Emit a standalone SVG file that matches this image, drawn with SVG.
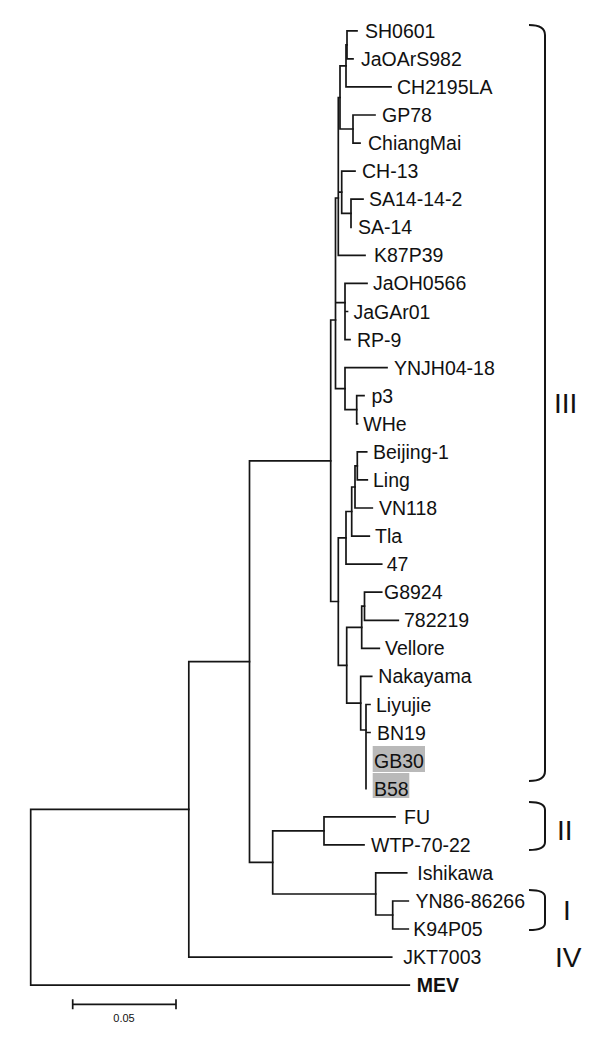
<svg xmlns="http://www.w3.org/2000/svg" width="600" height="1054" viewBox="0 0 600 1054">
<style>
.br{stroke:#151515;stroke-width:1.7;fill:none;stroke-linecap:square}
.bk{stroke:#151515;stroke-width:2;fill:none}
.lbl{font-family:"Liberation Sans",Arial,sans-serif;font-size:19.5px;fill:#111}
.grp{font-family:"Liberation Sans",Arial,sans-serif;font-size:28px;fill:#111}
.hl{fill:#b9b9b9}
</style>
<rect width="600" height="1054" fill="#fff"/>
<g id="connectors">
<path class="br" d="M347,30.8V58.9M347,30.8H357M347,58.9H353"/>
<path class="br" d="M346,44.85V86.9M346,44.85H347M346,86.9H391"/>
<path class="br" d="M353,115V143.1M353,115H375M353,143.1H360"/>
<path class="br" d="M340,65.9V129M340,65.9H346M340,129H353"/>
<path class="br" d="M351,199.2V227.3M351,199.2H363"/>
<path class="br" d="M341.7,171.2V213.3M341.7,171.2H355M341.7,213.3H351"/>
<path class="br" d="M338.3,97.5V255.4M338.3,97.5H340M338.3,192.2H341.7M338.3,255.4H365"/>
<path class="br" d="M345,283.4V339.6M345,283.4H367M345,311.5H347.5M345,339.6H350"/>
<path class="br" d="M356.7,395.7V423.8M356.7,395.7H364M356.7,423.8H357.5"/>
<path class="br" d="M345,367.6V409.7M345,367.6H387M345,409.7H356.7"/>
<path class="br" d="M335.5,198V388.7M335.5,198H338.3M335.5,302.7H345M335.5,388.7H345"/>
<path class="br" d="M357.3,451.9V479.9M357.3,451.9H366.7M357.3,479.9H367.3"/>
<path class="br" d="M355,465.9V508M355,465.9H357.3M355,508H372.3"/>
<path class="br" d="M351.7,487V536.1M351.7,487H355M351.7,536.1H369.3"/>
<path class="br" d="M346,511.5V564.1M346,511.5H351.7M346,564.1H381.7"/>
<path class="br" d="M364.5,592.2V620.3M364.5,592.2H381.7M364.5,620.3H398.3"/>
<path class="br" d="M361.7,606.2V648.3M361.7,606.2H364.5M361.7,648.3H379.3"/>
<path class="br" d="M366,704.5V788.7M366,704.5H370M366,732.5H370"/>
<path class="br" d="M360.7,676.4V730M360.7,676.4H371.7M360.7,730H366"/>
<path class="br" d="M346.7,627.3V703.2M346.7,627.3H361.7M346.7,703.2H360.7"/>
<path class="br" d="M338.3,537.8V665.3M338.3,537.8H346M338.3,665.3H346.7"/>
<path class="br" d="M330.7,320V601.5M330.7,320H335.5M330.7,601.5H338.3"/>
<path class="br" d="M324,816.8V844.8M324,816.8H395M324,844.8H364"/>
<path class="br" d="M392.7,901V929M392.7,901H408.3M392.7,929H408.3"/>
<path class="br" d="M375.7,872.9V915M375.7,872.9H406.7M375.7,915H392.7"/>
<path class="br" d="M272.7,830.8V894M272.7,830.8H324M272.7,894H375.7"/>
<path class="br" d="M249.5,460.8V862.4M249.5,460.8H330.7M249.5,862.4H272.7"/>
<path class="br" d="M188.8,661.6V957.1M188.8,661.6H249.5M188.8,957.1H391.7"/>
<path class="br" d="M30.7,809.4V985.2M30.7,809.4H188.8M30.7,985.2H409.3"/>
</g>
<g id="leaves">
<g id="n-SH0601"><text class="lbl" x="365" y="37.8">SH0601</text></g>
<g id="n-JaOArS982"><text class="lbl" x="361" y="65.9">JaOArS982</text></g>
<g id="n-CH2195LA"><text class="lbl" x="397" y="93.9">CH2195LA</text></g>
<g id="n-GP78"><text class="lbl" x="382" y="122">GP78</text></g>
<g id="n-ChiangMai"><text class="lbl" x="368" y="150.1">ChiangMai</text></g>
<g id="n-CH-13"><text class="lbl" x="362" y="178.2">CH-13</text></g>
<g id="n-SA14-14-2"><text class="lbl" x="369" y="206.2">SA14-14-2</text></g>
<g id="n-SA-14"><text class="lbl" x="358" y="234.3">SA-14</text></g>
<g id="n-K87P39"><text class="lbl" x="374" y="262.4">K87P39</text></g>
<g id="n-JaOH0566"><text class="lbl" x="373" y="290.4">JaOH0566</text></g>
<g id="n-JaGAr01"><text class="lbl" x="353.5" y="318.5">JaGAr01</text></g>
<g id="n-RP-9"><text class="lbl" x="357" y="346.6">RP-9</text></g>
<g id="n-YNJH04-18"><text class="lbl" x="394" y="374.6">YNJH04-18</text></g>
<g id="n-p3"><text class="lbl" x="371.5" y="402.7">p3</text></g>
<g id="n-WHe"><text class="lbl" x="363.3" y="430.8">WHe</text></g>
<g id="n-Beijing-1"><text class="lbl" x="373" y="458.9">Beijing-1</text></g>
<g id="n-Ling"><text class="lbl" x="373" y="486.9">Ling</text></g>
<g id="n-VN118"><text class="lbl" x="379" y="515">VN118</text></g>
<g id="n-Tla"><text class="lbl" x="375" y="543.1">Tla</text></g>
<g id="n-47"><text class="lbl" x="386.7" y="571.1">47</text></g>
<g id="n-G8924"><text class="lbl" x="384" y="599.2">G8924</text></g>
<g id="n-782219"><text class="lbl" x="404" y="627.3">782219</text></g>
<g id="n-Vellore"><text class="lbl" x="385" y="655.3">Vellore</text></g>
<g id="n-Nakayama"><text class="lbl" x="378.3" y="683.4">Nakayama</text></g>
<g id="n-Liyujie"><text class="lbl" x="376" y="711.5">Liyujie</text></g>
<g id="n-BN19"><text class="lbl" x="377" y="739.5">BN19</text></g>
<g id="n-GB30"><rect class="hl" x="372.7" y="746" width="52.3" height="26"/><text class="lbl" x="374" y="767.6">GB30</text></g>
<g id="n-B58"><rect class="hl" x="372.7" y="773" width="36.6" height="25"/><text class="lbl" x="374" y="795.7">B58</text></g>
<g id="n-FU"><text class="lbl" x="404" y="823.8">FU</text></g>
<g id="n-WTP-70-22"><text class="lbl" x="371" y="851.8">WTP-70-22</text></g>
<g id="n-Ishikawa"><text class="lbl" x="417.3" y="879.9">Ishikawa</text></g>
<g id="n-YN86-86266"><text class="lbl" x="415.5" y="908">YN86-86266</text></g>
<g id="n-K94P05"><text class="lbl" x="413.3" y="936">K94P05</text></g>
<g id="n-JKT7003"><text class="lbl" x="403.3" y="964.1">JKT7003</text></g>
<g id="n-MEV"><text class="lbl" x="416.7" y="992.2" font-weight="bold">MEV</text></g>
</g>
<g id="genotypes">
<g id="g-III"><path class="bk" d="M529,25Q545,25 545,35V771Q545,781 529,781"/><text class="grp" x="554" y="413">III</text></g>
<g id="g-II"><path class="bk" d="M529,802Q545,802 545,810V842Q545,850 529,850"/><text class="grp" x="557" y="840">II</text></g>
<g id="g-I"><path class="bk" d="M529,890Q545,890 545,897V923Q545,930 529,930"/><text class="grp" x="563" y="920">I</text></g>
<g id="g-IV"><text class="grp" x="555" y="967">IV</text></g>
</g>
<g id="scale">
<path class="br" d="M72.7,1004.3H176M72.7,1000V1008.5M176,1000V1008.5"/>
<text x="124" y="1022" text-anchor="middle" font-family="Liberation Sans,Arial,sans-serif" font-size="11px" fill="#111">0.05</text>
</g>
</svg>
